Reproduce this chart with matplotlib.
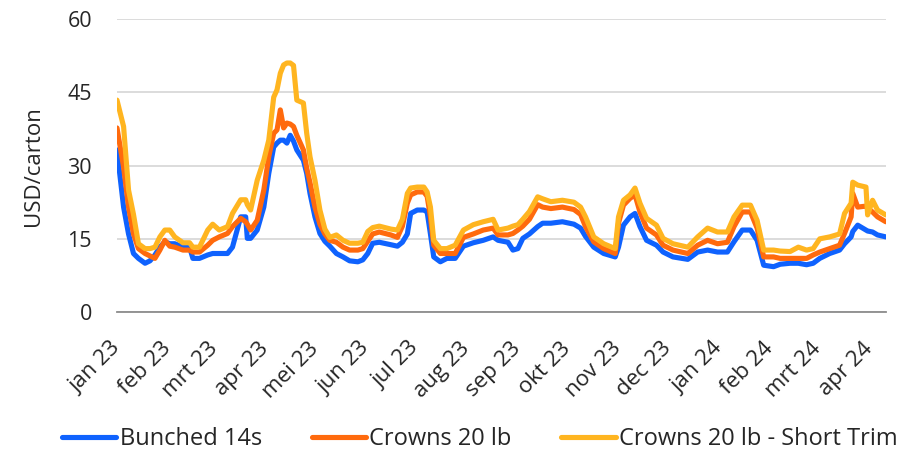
import matplotlib
matplotlib.use("Agg")
import matplotlib.pyplot as plt
import matplotlib.transforms as mtransforms
import pandas as pd

plt.rcParams["font.family"] = ["Open Sans", "DejaVu Sans"]

dates = [
    "2023-01-01", "2023-01-05", "2023-01-08", "2023-01-11", "2023-01-14", "2023-01-18",
    "2023-01-21", "2023-01-24", "2023-01-27", "2023-01-30", "2023-02-02", "2023-02-05",
    "2023-02-10", "2023-02-14", "2023-02-16", "2023-02-20", "2023-02-25", "2023-02-28",
    "2023-03-04", "2023-03-09", "2023-03-12", "2023-03-17", "2023-03-20", "2023-03-21",
    "2023-03-23", "2023-03-27", "2023-03-31", "2023-04-03", "2023-04-06", "2023-04-08",
    "2023-04-10", "2023-04-12", "2023-04-14", "2023-04-16", "2023-04-18", "2023-04-20",
    "2023-04-24", "2023-04-26", "2023-04-28", "2023-05-01", "2023-05-04", "2023-05-07",
    "2023-05-10", "2023-05-14", "2023-05-18", "2023-05-22", "2023-05-27", "2023-05-30",
    "2023-06-02", "2023-06-05", "2023-06-09", "2023-06-16", "2023-06-20", "2023-06-23",
    "2023-06-26", "2023-06-28", "2023-07-02", "2023-07-06", "2023-07-08", "2023-07-10",
    "2023-07-12", "2023-07-16", "2023-07-20", "2023-07-25", "2023-07-30", "2023-08-05",
    "2023-08-11", "2023-08-17", "2023-08-20", "2023-08-26", "2023-08-29", "2023-09-01",
    "2023-09-04", "2023-09-08", "2023-09-13", "2023-09-16", "2023-09-21", "2023-09-28",
    "2023-10-05", "2023-10-09", "2023-10-12", "2023-10-17", "2023-10-23", "2023-10-30",
    "2023-11-01", "2023-11-04", "2023-11-08", "2023-11-11", "2023-11-14", "2023-11-18",
    "2023-11-24", "2023-11-28", "2023-12-04", "2023-12-13", "2023-12-19", "2023-12-25",
    "2023-12-31", "2024-01-06", "2024-01-10", "2024-01-15", "2024-01-20", "2024-01-24",
    "2024-01-28", "2024-02-03", "2024-02-07", "2024-02-13", "2024-02-18", "2024-02-23",
    "2024-02-27", "2024-03-02", "2024-03-08", "2024-03-14", "2024-03-17", "2024-03-21",
    "2024-03-22", "2024-03-25", "2024-03-30", "2024-03-31", "2024-04-03", "2024-04-06",
    "2024-04-11",
]

bunched_14s = [
    33.2, 21.5, 16.0, 12.0, 11.0, 10.0, 10.5, 11.7, 13.3, 14.4, 14.0, 14.0,
    13.3, 13.3, 11.0, 11.0, 11.7, 12.0, 12.0, 12.0, 13.3, 19.5, 19.5, 15.1,
    15.1, 16.8, 21.5, 28.4, 33.8, 34.6, 35.2, 35.2, 34.6, 36.2, 35.0, 33.2,
    31.1, 28.4, 24.3, 19.5, 16.1, 14.5, 13.5, 12.0, 11.3, 10.5, 10.3, 10.7,
    12.0, 14.1, 14.3, 13.8, 13.5, 14.3, 16.0, 20.2, 20.9, 20.9, 20.5, 16.0,
    11.3, 10.3, 11.0, 11.0, 13.5, 14.2, 14.7, 15.4, 14.7, 14.3, 12.7, 13.0,
    15.1, 16.0, 17.5, 18.2, 18.2, 18.5, 18.0, 17.2, 15.5, 13.3, 12.0, 11.3,
    13.3, 17.8, 19.5, 20.2, 17.5, 14.7, 13.7, 12.3, 11.3, 10.8, 12.3, 12.7,
    12.3, 12.3, 14.4, 16.8, 16.8, 14.7, 9.6, 9.3, 9.8, 10.0, 10.0, 9.7,
    10.0, 11.0, 12.0, 12.7, 14.0, 15.4, 16.5, 17.8, 16.8, 16.6, 16.4, 15.8,
    15.4,
]

crowns_20lb = [
    37.7, 29.7, 21.5, 16.0, 13.0, 12.0, 11.5, 11.0, 12.7, 14.7, 13.5, 13.3,
    12.7, 12.7, 12.3, 12.3, 13.7, 14.7, 15.4, 16.1, 17.5, 19.2, 18.5, 18.0,
    16.8, 18.8, 25.0, 31.8, 36.6, 37.3, 41.4, 37.7, 38.7, 38.5, 38.0, 36.2,
    33.2, 29.5, 26.5, 21.5, 18.0, 16.0, 14.7, 14.3, 13.3, 12.7, 12.7, 13.0,
    14.5, 16.0, 16.4, 15.8, 15.3, 17.6, 22.3, 24.0, 24.6, 24.6, 23.7, 19.5,
    13.7, 12.0, 12.0, 12.0, 15.3, 16.0, 16.8, 17.2, 15.8, 15.8, 16.1, 16.8,
    17.6, 19.0, 22.0, 21.5, 21.2, 21.5, 21.0, 20.0, 17.5, 14.4, 13.0, 12.0,
    18.2, 21.9, 23.3, 24.0, 20.5, 17.2, 15.8, 13.7, 12.7, 12.0, 13.7, 14.7,
    14.0, 14.3, 17.5, 20.5, 20.5, 17.2, 11.3, 11.3, 11.0, 11.0, 11.0, 11.0,
    11.7, 12.3, 13.0, 13.7, 16.1, 19.5, 24.3, 21.5, 21.7, 21.2, 20.5, 19.5,
    18.5,
]

crowns_20lb_short_trim = [
    43.4, 38.0, 25.0, 20.0, 14.0, 13.0, 13.0, 13.3, 15.4, 16.8, 16.8, 15.4,
    14.2, 14.2, 13.3, 13.3, 16.8, 18.0, 16.8, 17.5, 20.2, 23.0, 23.0, 22.0,
    20.9, 27.0, 31.1, 35.2, 44.0, 45.5, 48.9, 50.6, 51.0, 51.0, 50.5, 43.4,
    42.8, 36.6, 31.8, 27.0, 20.9, 17.0, 15.3, 15.8, 14.7, 14.1, 14.1, 14.3,
    16.5, 17.3, 17.6, 17.0, 16.8, 19.0, 24.3, 25.4, 25.6, 25.6, 24.6, 21.5,
    14.7, 13.0, 13.0, 13.7, 16.8, 17.9, 18.5, 19.0, 16.8, 17.2, 17.6, 17.9,
    19.0, 20.6, 23.6, 23.2, 22.6, 22.9, 22.5, 21.5, 19.5, 15.4, 14.0, 13.0,
    19.5, 22.9, 24.0, 25.4, 22.3, 19.2, 17.8, 15.1, 14.0, 13.3, 15.4, 17.2,
    16.4, 16.4, 19.5, 21.9, 21.9, 18.8, 12.7, 12.7, 12.5, 12.4, 13.3, 12.7,
    13.0, 15.0, 15.4, 16.0, 20.2, 22.3, 26.6, 26.0, 25.6, 19.9, 22.9, 20.9,
    19.9,
]

month_labels = ["jan 23", "feb 23", "mrt 23", "apr 23", "mei 23", "jun 23",
                "jul 23", "aug 23", "sep 23", "okt 23", "nov 23", "dec 23",
                "jan 24", "feb 24", "mrt 24", "apr 24"]
y_ticks = [0, 15, 30, 45, 60]

x = pd.to_datetime(dates)
text_color = "#262626"

fig = plt.figure(figsize=(9.02, 4.53), dpi=100)
ax = fig.add_axes([0.1297, 0.311, 0.8523, 0.647])

series = [
    (bunched_14s, "#0f62fe", "Bunched 14s"),
    (crowns_20lb, "#ff6a0d", "Crowns 20 lb"),
    (crowns_20lb_short_trim, "#ffb520", "Crowns 20 lb - Short Trim"),
]
for values, color, name in series:
    ax.plot(x, values, color=color, lw=3.7, label=name,
            solid_joinstyle="round", solid_capstyle="round")

ax.set_ylim(0, 60)
ax.set_yticks(y_ticks)
ax.set_xlim(pd.Timestamp("2023-01-01"), pd.Timestamp("2024-04-11"))

tick_dates = pd.date_range("2023-01-01", periods=len(month_labels), freq="MS")
ax.set_xticks(tick_dates)
ax.set_xticklabels(month_labels, rotation=45, ha="right", va="center",
                   rotation_mode="anchor", fontsize=16)
# nudge the slanted month labels a little to the right of their ticks
shift = mtransforms.ScaledTranslation(4 / 72, 0, fig.dpi_scale_trans)
for lbl in ax.get_xticklabels():
    lbl.set_transform(lbl.get_transform() + shift)

ax.grid(axis="y", color="#d9d9d9", lw=1.3)
ax.set_axisbelow(True)
for side in ("top", "right", "left"):
    ax.spines[side].set_visible(False)
ax.spines["bottom"].set_color("#8c8c8c")
ax.spines["bottom"].set_linewidth(1.3)
ax.tick_params(axis="both", length=0, colors=text_color)
ax.tick_params(axis="y", pad=18, labelsize=15.5)
ax.tick_params(axis="x", pad=24)

ax.set_ylabel("USD/carton", fontsize=16, color=text_color, labelpad=17)

fig.legend(loc="center", bbox_to_anchor=(0.532, 0.031), ncol=3, frameon=False,
           fontsize=17, handlelength=2.3, handletextpad=0.15,
           columnspacing=2.1, labelcolor=text_color)

fig.savefig("out.png", dpi=100)
